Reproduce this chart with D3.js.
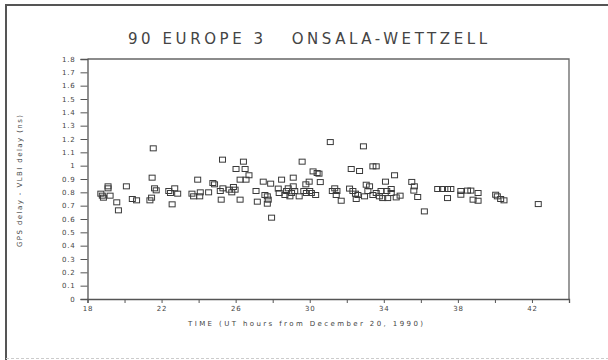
<!DOCTYPE html>
<html><head><meta charset="utf-8">
<script src="https://cdn.jsdelivr.net/npm/d3@7"></script>
<style>html,body{margin:0;padding:0;background:#fff;}svg{display:block;}</style>
</head><body>
<svg id="c" width="608" height="360"></svg>
<script>
const titleText = "90 EUROPE 3   ONSALA-WETTZELL";
const xLabel = "TIME (UT hours from December 20, 1990)";
const yLabel = "GPS delay - VLBI delay (ns)";
const xTicks = [18,20,22,24,26,28,30,32,34,36,38,40,42,44];
const xTickLabels = [18,22,26,30,34,38,42];
const yTicks = [0,0.1,0.2,0.3,0.4,0.5,0.6,0.7,0.8,0.9,1,1.1,1.2,1.3,1.4,1.5,1.6,1.7,1.8];
const timeHours = [18.72,18.8,18.86,19.11,19.11,19.22,19.58,19.67,20.10,20.42,20.65,21.37,21.46,21.55,21.49,21.62,21.71,
 22.39,22.48,22.57,22.71,22.87,23.64,23.73,23.95,24.06,24.09,24.54,24.77,24.86,25.17,25.22,25.29,25.31,25.65,25.79,25.88,25.97,
 26.02,26.42,26.51,26.24,26.56,26.72,26.24,27.10,27.17,27.49,27.58,27.71,27.76,27.71,27.89,27.94,28.30,28.35,28.48,28.66,28.75,
 28.84,28.93,29.02,29.11,29.11,29.19,29.43,29.59,29.68,29.79,29.82,29.97,30.00,30.09,30.18,30.32,30.40,30.50,30.57,31.11,31.22,
 31.35,31.43,31.47,31.70,32.15,32.24,32.33,32.47,32.51,32.60,32.69,32.90,32.96,33.05,33.14,33.23,33.41,33.59,33.41,33.59,33.76,
 33.85,33.94,34.09,34.16,34.21,34.58,35.51,35.65,35.62,34.40,34.40,34.67,34.88,35.83,36.19,36.91,37.17,37.44,37.62,37.44,38.16,
 38.16,38.52,38.70,39.09,38.82,39.09,40.04,40.13,40.31,40.49,42.34];
const delayNs = [0.79,0.775,0.76,0.845,0.83,0.775,0.725,0.665,0.845,0.75,0.74,0.74,0.76,1.13,0.91,0.83,0.815,
 0.81,0.795,0.71,0.83,0.79,0.79,0.77,0.895,0.77,0.80,0.80,0.87,0.86,0.81,0.745,1.045,0.83,0.82,0.80,0.84,0.82,
 0.975,1.03,0.975,0.895,0.895,0.928,0.745,0.81,0.73,0.88,0.78,0.77,0.745,0.715,0.865,0.61,0.828,0.795,0.895,0.78,0.81,
 0.83,0.77,0.795,0.91,0.845,0.81,0.77,1.03,0.81,0.86,0.795,0.88,0.81,0.795,0.957,0.78,0.945,0.94,0.877,1.177,0.81,
 0.83,0.78,0.81,0.737,0.828,0.975,0.81,0.79,0.75,0.78,0.96,1.145,0.77,0.857,0.81,0.845,0.995,0.995,0.78,0.795,0.77,
 0.81,0.757,0.88,0.81,0.757,0.928,0.878,0.845,0.813,0.825,0.795,0.762,0.775,0.765,0.657,0.825,0.825,0.825,0.825,0.757,0.81,
 0.782,0.813,0.813,0.795,0.745,0.737,0.782,0.77,0.75,0.74,0.712];

const svg = d3.select("#c");
const L = 87.5, R = 569, T = 59, B = 299;
const x = d3.scaleLinear().domain([18,44]).range([L,R]);
const y = d3.scaleLinear().domain([0,1.8]).range([B,T]);
const ink = "#3a3a3a";

// outer frame
svg.append("path").attr("d","M6,360 L6,5 L608,5").attr("fill","none").attr("stroke","#555").attr("stroke-width",2);
svg.append("line").attr("x1",6).attr("x2",608).attr("y1",358.5).attr("y2",358.5).attr("stroke","#ccc").attr("stroke-width",1).attr("stroke-dasharray","3,2");

// title
svg.append("text").attr("x",128).attr("y",43.5).attr("textLength",359).attr("lengthAdjust","spacing")
  .attr("font-family","DejaVu Sans").attr("font-size",15).attr("fill","#444").style("white-space","pre")
  .text(titleText);

// plot frame
svg.append("path").attr("d",`M${L},${T} L${R},${T} L${R},${B}`).attr("fill","none").attr("stroke","#666").attr("stroke-width",1.3);

// axes
const xAxis = d3.axisBottom(x).tickValues(xTicks).tickSize(4).tickPadding(3)
  .tickFormat(d => xTickLabels.includes(d) ? d : "");
const gx = svg.append("g").attr("transform",`translate(0,${B})`).call(xAxis);
const yAxis = d3.axisLeft(y).tickValues(yTicks).tickSize(7).tickPadding(5).tickFormat(d3.format("~g"));
const gy = svg.append("g").attr("transform",`translate(${L},0)`).call(yAxis);
[gx,gy].forEach(g => {
  g.select(".domain").attr("stroke","#555").attr("stroke-width",1.3);
  g.selectAll(".tick line").attr("stroke","#555");
  g.selectAll(".tick text").attr("font-family","DejaVu Sans").attr("font-size",7).attr("fill","#444")
    .attr("letter-spacing","0.8px");
});

// axis labels
svg.append("text").attr("x",188).attr("y",326).attr("textLength",235).attr("lengthAdjust","spacing")
  .attr("font-family","DejaVu Sans").attr("font-size",7).attr("fill","#444").text(xLabel);
svg.append("text").attr("transform","translate(22,247) rotate(-90)").attr("textLength",132).attr("lengthAdjust","spacing")
  .attr("font-family","DejaVu Sans").attr("font-size",7).attr("fill","#444").text(yLabel);

// points
const pts = timeHours.map((t,i)=>({t, v: delayNs[i]}));
svg.append("g").selectAll("rect").data(pts).join("rect")
  .attr("x", d => x(d.t) - 3).attr("y", d => y(d.v) - 2.5)
  .attr("width",6).attr("height",5)
  .attr("fill","none").attr("stroke",ink).attr("stroke-width",1);
</script>
</body></html>
